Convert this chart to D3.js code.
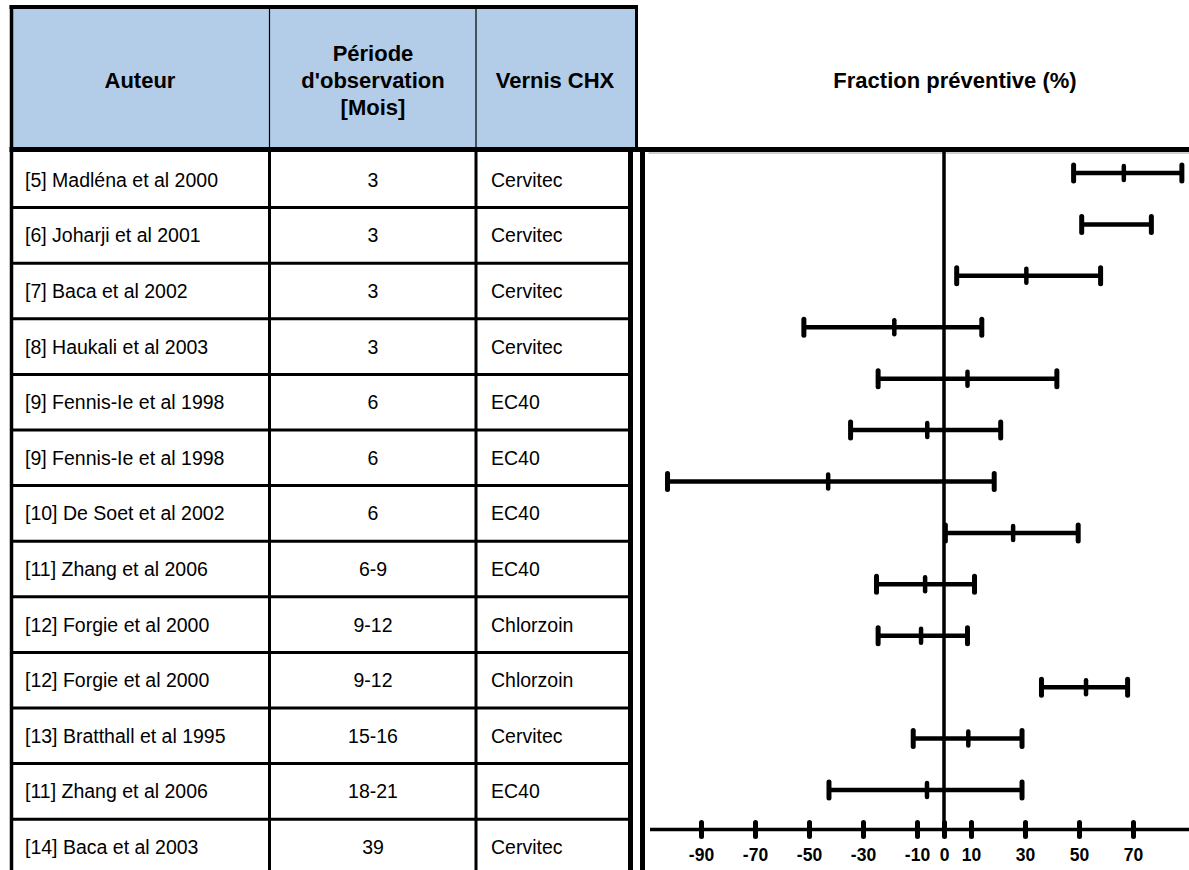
<!DOCTYPE html>
<html lang="fr">
<head>
<meta charset="utf-8">
<title>Fraction préventive des vernis à la chlorhexidine</title>
<script src="https://cdn.jsdelivr.net/npm/d3@7/dist/d3.min.js"></script>
<style>
  html, body { margin: 0; padding: 0; background: #fff; }
  svg { display: block; }
  text { font-family: "Liberation Sans", Arial, sans-serif; fill: #000; }
</style>
</head>
<body>
<svg id="chart" width="1189" height="870"></svg>
<script>
// Études incluses
const auteurs = [
  "[5] Madléna et al 2000",
  "[6] Joharji et al 2001",
  "[7] Baca et al 2002",
  "[8] Haukali et al 2003",
  "[9] Fennis-Ie et al 1998",
  "[9] Fennis-Ie et al 1998",
  "[10] De Soet et al 2002",
  "[11] Zhang et al 2006",
  "[12] Forgie et al 2000",
  "[12] Forgie et al 2000",
  "[13] Bratthall et al 1995",
  "[11] Zhang et al 2006",
  "[14] Baca et al 2003"
];
const periodes = ["3", "3", "3", "3", "6", "6", "6", "6-9", "9-12", "9-12", "15-16", "18-21", "39"];
const vernis = ["Cervitec", "Cervitec", "Cervitec", "Cervitec", "EC40", "EC40", "EC40", "EC40",
                "Chlorzoin", "Chlorzoin", "Cervitec", "EC40", "Cervitec"];

// Fraction préventive (%) : borne inférieure, estimation, borne supérieure
const borneInf   = [48.0, 51.0, 4.7, -51.9, -24.4, -34.6, -102.4, 0.5, -25.0, -24.4, 36.1, -11.4, -42.6];
const estimation = [66.6, null, 30.5, -18.4, 8.7, -6.2, -42.9, 25.6, -7.0, -8.5, 52.6, 9.0, -6.3];
const borneSup   = [88.1, 76.8, 58.0, 14.0, 41.8, 21.0, 18.6, 49.7, 11.3, 8.7, 68.0, 28.9, 28.9];

const graduations = [-90, -70, -50, -30, -10, 0, 10, 30, 50, 70];

const enTetes = [
  { lignes: ["Auteur"], cx: 140 },
  { lignes: ["Période", "d'observation", "[Mois]"], cx: 373 },
  { lignes: ["Vernis CHX"], cx: 555 }
];
const titreGraphique = "Fraction préventive (%)";

// ---- mise en page ----
const W = 1189, H = 870;
const tableLeft = 11.5, col1 = 269.5, col2 = 476, tableRight = 630.5;
const headerTop = 7, headerBottom = 149.5;
const bodyTop = 152, rowH = 55.6;
const chartLeft = 642.5;

const svg = d3.select("#chart");

const rows = d3.range(auteurs.length);
const yRow = d3.scaleBand().domain(rows).range([bodyTop, bodyTop + rowH * rows.length]);

// fond de l'en-tête
svg.append("rect")
  .attr("x", tableLeft).attr("y", headerTop)
  .attr("width", 636.5 - tableLeft).attr("height", headerBottom - headerTop)
  .attr("fill", "#b3cce7");

// textes de l'en-tête
const lineH = 27;
enTetes.forEach(h => {
  const n = h.lignes.length;
  const t = svg.append("text")
    .attr("x", h.cx)
    .attr("text-anchor", "middle")
    .attr("font-size", 22)
    .attr("font-weight", "bold");
  h.lignes.forEach((l, i) => {
    t.append("tspan")
      .attr("x", h.cx)
      .attr("y", 80 + (i - (n - 1) / 2) * lineH)
      .attr("dy", "0.36em")
      .text(l);
  });
});

svg.append("text")
  .attr("x", 955).attr("y", 80).attr("dy", "0.36em")
  .attr("text-anchor", "middle")
  .attr("font-size", 22).attr("font-weight", "bold")
  .text(titreGraphique);

// cellules
const cellText = (arr, x, anchor) => {
  svg.append("g").selectAll("text")
    .data(arr)
    .join("text")
    .attr("x", x)
    .attr("y", (d, i) => yRow(i) + yRow.bandwidth() / 2)
    .attr("dy", "0.36em")
    .attr("text-anchor", anchor)
    .attr("font-size", 19.5)
    .text(d => d);
};
cellText(auteurs, 25, "start");
cellText(periodes, 373, "middle");
cellText(vernis, 491, "start");

// traits du tableau
const line = (x1, y1, x2, y2, w) =>
  svg.append("line")
    .attr("x1", x1).attr("y1", y1).attr("x2", x2).attr("y2", y2)
    .attr("stroke", "#000").attr("stroke-width", w);

// séparateurs de lignes
svg.append("g").selectAll("line")
  .data(rows.slice(1))
  .join("line")
  .attr("x1", tableLeft).attr("x2", tableRight)
  .attr("y1", d => yRow(d)).attr("y2", d => yRow(d))
  .attr("stroke", "#000").attr("stroke-width", 3);

line(tableLeft - 2, headerTop, 638, headerTop, 4);          // haut de l'en-tête
line(tableLeft, headerTop - 2, tableLeft, H, 3.5);           // bord gauche
line(636.5, headerTop, 636.5, headerBottom, 3);              // bord droit de l'en-tête
line(col1, headerTop, col1, headerBottom, 1.2);              // séparateurs fins de l'en-tête
line(col2, headerTop, col2, headerBottom, 1.2);
line(col1, headerBottom, col1, H, 3);                        // séparateurs du corps
line(col2, headerBottom, col2, H, 3);
line(tableRight, headerBottom, tableRight, H, 5);            // bord droit du tableau
line(chartLeft, bodyTop, chartLeft, H, 5);                   // bord gauche du graphique
line(tableLeft - 2, headerBottom, W, headerBottom, 5);       // bas de l'en-tête
svg.append("line").attr("x1", chartLeft + 6).attr("x2", W)
  .attr("y1", bodyTop + 1).attr("y2", bodyTop + 1)
  .attr("stroke", "#888").attr("stroke-width", 0.8);

// ---- graphique en forêt ----
const x = d3.scaleLinear().domain([-90, 70]).range([701, 1133]);
const yBar = d3.scalePoint().domain(rows).range([173, 790]);
const axisY = 829.5;

// axe horizontal
svg.append("line")
  .attr("x1", 650).attr("x2", W)
  .attr("y1", axisY).attr("y2", axisY)
  .attr("stroke", "#000").attr("stroke-width", 3.5);

const axis = d3.axisBottom(x)
  .tickValues(graduations)
  .tickSize(14)
  .tickPadding(10)
  .tickFormat(d3.format("d"));

const gAxis = svg.append("g")
  .attr("transform", `translate(0,${axisY - 7})`)
  .call(axis);
gAxis.select(".domain").remove();
gAxis.selectAll(".tick line")
  .attr("stroke", "#000").attr("stroke-width", 5).attr("stroke-linecap", "round");
gAxis.selectAll(".tick text")
  .attr("y", 32).attr("dy", "0.36em")
  .attr("font-family", "\"Liberation Sans\", Arial, sans-serif")
  .attr("font-size", 17.5).attr("font-weight", "bold")
  .attr("fill", "#1a1a1a")
  .text(d => String(d));

// ligne verticale du zéro
svg.append("line")
  .attr("x1", x(0)).attr("x2", x(0))
  .attr("y1", bodyTop).attr("y2", axisY)
  .attr("stroke", "#000").attr("stroke-width", 3.5);

// intervalles
const gBars = svg.append("g").attr("stroke", "#000").attr("stroke-linecap", "round");
rows.forEach(i => {
  const y = yBar(i);
  gBars.append("line")
    .attr("x1", x(borneInf[i])).attr("x2", x(borneSup[i]))
    .attr("y1", y).attr("y2", y)
    .attr("stroke-width", 4.5).attr("stroke-linecap", "butt");
  [borneInf[i], borneSup[i]].forEach(v => {
    gBars.append("line")
      .attr("x1", x(v)).attr("x2", x(v))
      .attr("y1", y - 8).attr("y2", y + 8)
      .attr("stroke-width", 5);
  });
  if (estimation[i] !== null) {
    gBars.append("line")
      .attr("x1", x(estimation[i])).attr("x2", x(estimation[i]))
      .attr("y1", y - 7).attr("y2", y + 7)
      .attr("stroke-width", 4.5);
  }
});
</script>
</body>
</html>
